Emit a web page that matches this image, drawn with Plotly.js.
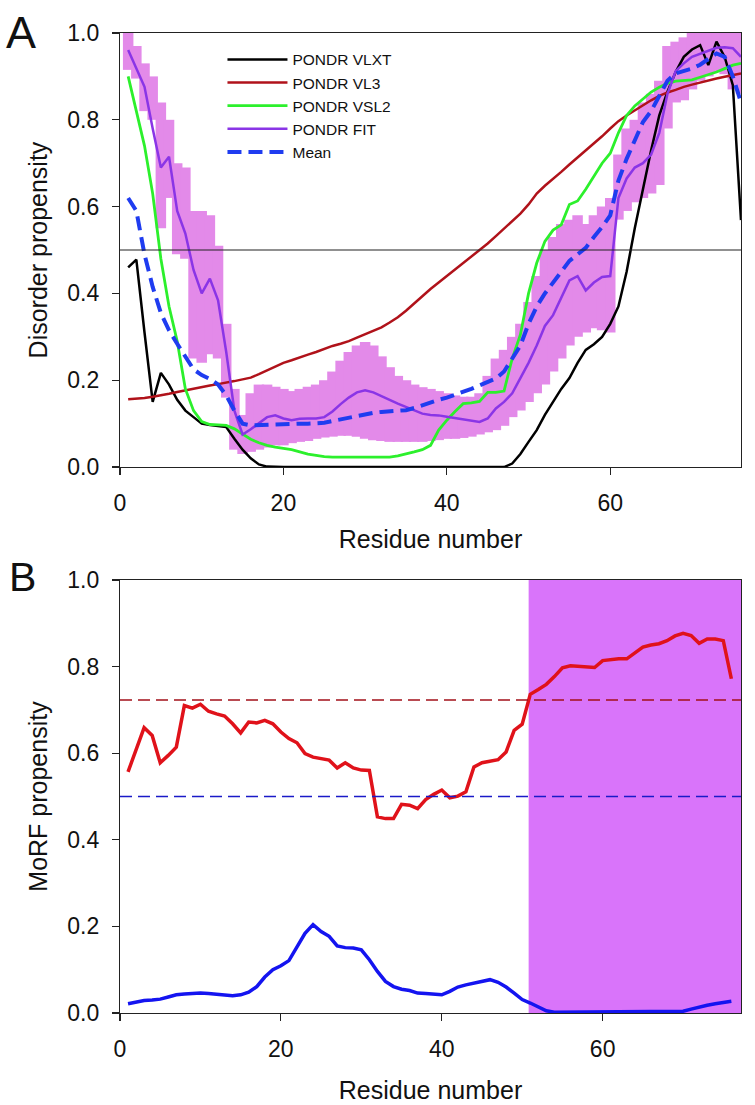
<!DOCTYPE html>
<html>
<head>
<meta charset="utf-8">
<script src="https://cdn.plot.ly/plotly-3.0.1.min.js"></script>
<style>html,body{margin:0;padding:0;background:#fff;}#chart{width:755px;height:1105px;}</style>
</head>
<body>
<div id="chart"></div>
<script>
// ---------- Data ----------
const residues = [1,2,3,4,5,6,7,8,9,10,11,12,13,14,15,16,17,18,19,20,21,22,23,24,25,26,27,28,29,30,31,32,33,34,35,36,37,38,39,40,41,42,43,44,45,46,47,48,49,50,51,52,53,54,55,56,57,58,59,60,61,62,63,64,65,66,67,68,69,70,71,72,73,74,75,76];

// Panel A: disorder propensity
const vlxt = [0.46,0.478,0.31,0.15,0.217,0.19,0.155,0.13,0.115,0.10,0.097,0.095,0.092,0.065,0.04,0.02,0.006,0.001,0,0,0,0,0,0,0,0,0,0,0,0,0,0,0,0,0,0,0,0,0,0,0,0,0,0,0,0,0,0.008,0.03,0.058,0.085,0.12,0.15,0.18,0.205,0.24,0.27,0.283,0.30,0.33,0.37,0.45,0.55,0.64,0.73,0.81,0.865,0.91,0.945,0.962,0.972,0.926,0.98,0.945,0.88,0.569];
const vl3 = [0.156,0.157,0.159,0.162,0.165,0.169,0.173,0.177,0.181,0.185,0.188,0.191,0.194,0.198,0.202,0.206,0.214,0.223,0.232,0.240,0.246,0.253,0.259,0.265,0.272,0.279,0.284,0.29,0.298,0.306,0.314,0.322,0.333,0.345,0.36,0.377,0.394,0.41,0.425,0.44,0.455,0.47,0.485,0.499,0.515,0.532,0.55,0.567,0.584,0.605,0.63,0.648,0.663,0.68,0.697,0.713,0.728,0.745,0.762,0.78,0.797,0.81,0.822,0.833,0.845,0.855,0.863,0.869,0.876,0.881,0.886,0.89,0.895,0.899,0.903,0.907];
const vsl2 = [0.90,0.82,0.74,0.63,0.48,0.37,0.29,0.18,0.13,0.105,0.098,0.097,0.096,0.088,0.075,0.064,0.056,0.05,0.046,0.043,0.04,0.035,0.03,0.027,0.024,0.023,0.023,0.023,0.023,0.022,0.022,0.022,0.023,0.026,0.03,0.035,0.04,0.05,0.085,0.108,0.128,0.146,0.148,0.151,0.172,0.172,0.175,0.25,0.305,0.40,0.47,0.52,0.546,0.558,0.605,0.613,0.64,0.67,0.70,0.723,0.77,0.81,0.832,0.848,0.864,0.875,0.884,0.889,0.89,0.892,0.898,0.904,0.91,0.918,0.926,0.93];
const fit = [0.961,0.92,0.876,0.78,0.69,0.715,0.59,0.538,0.454,0.40,0.434,0.384,0.265,0.13,0.075,0.087,0.102,0.115,0.119,0.112,0.108,0.111,0.112,0.112,0.115,0.128,0.145,0.16,0.172,0.177,0.172,0.164,0.155,0.146,0.138,0.13,0.123,0.12,0.119,0.116,0.113,0.11,0.107,0.104,0.112,0.135,0.15,0.17,0.205,0.24,0.28,0.325,0.35,0.39,0.43,0.44,0.407,0.425,0.438,0.44,0.62,0.665,0.69,0.70,0.72,0.77,0.86,0.912,0.93,0.945,0.952,0.96,0.966,0.967,0.965,0.945];
const fitUpper = [1.0,0.97,0.93,0.90,0.84,0.80,0.70,0.69,0.59,0.59,0.58,0.51,0.33,0.18,0.12,0.17,0.19,0.19,0.185,0.18,0.175,0.18,0.185,0.19,0.20,0.22,0.245,0.265,0.28,0.288,0.28,0.255,0.23,0.21,0.20,0.19,0.184,0.18,0.175,0.17,0.165,0.162,0.162,0.17,0.21,0.25,0.27,0.30,0.33,0.38,0.44,0.50,0.53,0.56,0.57,0.58,0.56,0.58,0.60,0.62,0.72,0.78,0.80,0.84,0.86,0.89,0.97,0.98,0.99,1.0,1.0,1.0,1.0,1.0,1.0,1.0];
const fitLower = [0.915,0.895,0.82,0.80,0.55,0.62,0.49,0.48,0.25,0.24,0.26,0.25,0.16,0.04,0.03,0.035,0.04,0.045,0.05,0.05,0.055,0.058,0.06,0.065,0.068,0.07,0.072,0.072,0.07,0.065,0.062,0.06,0.058,0.058,0.058,0.058,0.058,0.06,0.062,0.065,0.065,0.067,0.07,0.075,0.08,0.085,0.095,0.115,0.13,0.15,0.17,0.19,0.22,0.25,0.28,0.30,0.31,0.32,0.315,0.31,0.57,0.59,0.61,0.62,0.63,0.65,0.78,0.84,0.845,0.87,0.89,0.90,0.91,0.905,0.87,0.86];
const meanDisorder = [0.62,0.59,0.49,0.415,0.355,0.315,0.284,0.254,0.225,0.212,0.203,0.19,0.165,0.13,0.10,0.096,0.097,0.098,0.098,0.099,0.099,0.1,0.1,0.1,0.102,0.106,0.11,0.114,0.118,0.122,0.125,0.127,0.128,0.13,0.131,0.136,0.143,0.148,0.155,0.16,0.166,0.172,0.18,0.188,0.196,0.204,0.22,0.25,0.28,0.33,0.37,0.40,0.425,0.447,0.475,0.49,0.505,0.53,0.553,0.58,0.66,0.71,0.75,0.795,0.82,0.855,0.89,0.907,0.913,0.918,0.927,0.94,0.953,0.945,0.90,0.84];
const disorderThreshold = 0.5;

// Panel B: MoRF propensity
const morfRed = [0.557,0.608,0.659,0.641,0.578,0.595,0.614,0.710,0.704,0.713,0.697,0.691,0.686,0.668,0.647,0.672,0.670,0.676,0.668,0.649,0.634,0.624,0.599,0.591,0.587,0.584,0.566,0.578,0.566,0.561,0.560,0.453,0.449,0.449,0.482,0.480,0.472,0.493,0.505,0.515,0.497,0.501,0.511,0.568,0.578,0.582,0.585,0.603,0.653,0.667,0.736,0.747,0.759,0.777,0.797,0.802,0.801,0.799,0.798,0.814,0.817,0.818,0.818,0.831,0.845,0.850,0.853,0.860,0.871,0.877,0.872,0.854,0.864,0.864,0.860,0.772];
const morfBlue = [0.0215,0.025,0.029,0.030,0.032,0.037,0.042,0.044,0.046,0.046,0.045,0.043,0.040,0.040,0.042,0.048,0.061,0.083,0.100,0.109,0.121,0.154,0.184,0.204,0.188,0.177,0.155,0.151,0.150,0.146,0.123,0.096,0.073,0.061,0.055,0.052,0.046,0.045,0.043,0.042,0.050,0.060,0.065,0.069,0.071,0.077,0.071,0.060,0.046,0.031,0.023,0.015,0.005,0.002,0.002,0.002,0.002,0.002,0.002,0.003,0.004,0.004,0.004,0.004,0.003,0.003,0.002,0.002,0.002,0.004,0.009,0.014,0.018,0.0215,0.025,0.027];
const morfRedThreshold = 0.723;
const morfBlueThreshold = 0.5;
const morfRegion = [50.8, 77.2];

// ---------- Styling ----------
const FONT = 'Liberation Sans, Arial, Helvetica, sans-serif';
const errPlus = fit.map((v, i) => fitUpper[i] - v);
const errMinus = fit.map((v, i) => v - fitLower[i]);

const traces = [
  {x: residues, y: fit, xaxis:'x', yaxis:'y', mode:'lines', line:{width:0, color:'rgba(0,0,0,0)'},
   error_y:{type:'data', symmetric:false, array: errPlus, arrayminus: errMinus, visible:true, thickness:10.5, width:0, color:'#e38ae9'},
   showlegend:false, hoverinfo:'skip'},
  {x: residues, y: vlxt, xaxis:'x', yaxis:'y', mode:'lines', name:'PONDR VLXT', line:{color:'#000000', width:2.5}},
  {x: residues, y: vl3, xaxis:'x', yaxis:'y', mode:'lines', name:'PONDR VL3', line:{color:'#b0121a', width:2.5}},
  {x: residues, y: vsl2, xaxis:'x', yaxis:'y', mode:'lines', name:'PONDR VSL2', line:{color:'#2cf02c', width:2.8}},
  {x: residues, y: fit, xaxis:'x', yaxis:'y', mode:'lines', name:'PONDR FIT', line:{color:'#8a35e6', width:2.5}},
  {x: residues, y: meanDisorder, xaxis:'x', yaxis:'y', mode:'lines', name:'Mean', line:{color:'#1f3cf0', width:4, dash:'14px,7px'}},
  {x: residues, y: morfRed, xaxis:'x2', yaxis:'y2', mode:'lines', showlegend:false, line:{color:'#e0121a', width:3.5}},
  {x: residues, y: morfBlue, xaxis:'x2', yaxis:'y2', mode:'lines', showlegend:false, line:{color:'#1414f0', width:3.5}}
];

const axisCommon = {
  showgrid:false, zeroline:false, showline:true, linecolor:'#222', linewidth:1.2,
  mirror:true, ticks:'outside', ticklen:7, tickwidth:1.2, tickcolor:'#222',
  tickfont:{family:FONT, size:23, color:'#111'}, ticklabelstandoff:8
};

const layout = {
  width:755, height:1105,
  margin:{l:120, r:14, t:33, b:92},
  paper_bgcolor:'#ffffff', plot_bgcolor:'#ffffff',
  font:{family:FONT, color:'#111', size:18},
  showlegend:true,
  legend:{x:0.165, y:0.99, xanchor:'left', yanchor:'top', bgcolor:'rgba(0,0,0,0)', borderwidth:0,
          font:{family:FONT, size:15.5, color:'#111'}, itemwidth:60},
  xaxis: Object.assign({}, axisCommon, {domain:[0,1], anchor:'y', range:[0,76], tickvals:[0,20,40,60],
          title:{text:'Residue number', font:{family:FONT, size:25, color:'#111'}, standoff:15}}),
  yaxis: Object.assign({}, axisCommon, {domain:[0.5571,1], anchor:'x', range:[0,1], tickvals:[0,0.2,0.4,0.6,0.8,1.0], tickformat:'.1f',
          title:{text:'Disorder propensity', font:{family:FONT, size:25, color:'#111'}, standoff:12}}),
  xaxis2: Object.assign({}, axisCommon, {domain:[0,1], anchor:'y2', range:[0,77.2], tickvals:[0,20,40,60],
          title:{text:'Residue number', font:{family:FONT, size:25, color:'#111'}, standoff:20}}),
  yaxis2: Object.assign({}, axisCommon, {domain:[0,0.4418], anchor:'x2', range:[0,1], tickvals:[0,0.2,0.4,0.6,0.8,1.0], tickformat:'.1f',
          title:{text:'MoRF propensity', font:{family:FONT, size:25, color:'#111'}, standoff:12}}),
  shapes:[
    {type:'line', xref:'x domain', yref:'y', x0:0, x1:1, y0:disorderThreshold, y1:disorderThreshold, line:{color:'#222', width:1.2}},
    {type:'rect', xref:'x2', yref:'y2', x0:morfRegion[0], x1:morfRegion[1], y0:0, y1:1, fillcolor:'#d974fa', line:{width:0}, layer:'below'},
    {type:'line', xref:'x2 domain', yref:'y2', x0:0, x1:1, y0:morfRedThreshold, y1:morfRedThreshold, line:{color:'#a3101a', width:1.5, dash:'12px,6px'}},
    {type:'line', xref:'x2 domain', yref:'y2', x0:0, x1:1, y0:morfBlueThreshold, y1:morfBlueThreshold, line:{color:'#1a1ac8', width:1.5, dash:'12px,6px'}}
  ],
  annotations:[
    {text:'A', xref:'paper', yref:'paper', x:-0.16, y:1.001, xanchor:'center', yanchor:'middle', showarrow:false, font:{family:FONT, size:45, color:'#111'}},
    {text:'B', xref:'paper', yref:'paper', x:-0.157, y:0.445, xanchor:'center', yanchor:'middle', showarrow:false, font:{family:FONT, size:41, color:'#111'}}
  ]
};

Plotly.newPlot('chart', traces, layout, {displayModeBar:false, staticPlot:true});
</script>
</body>
</html>
